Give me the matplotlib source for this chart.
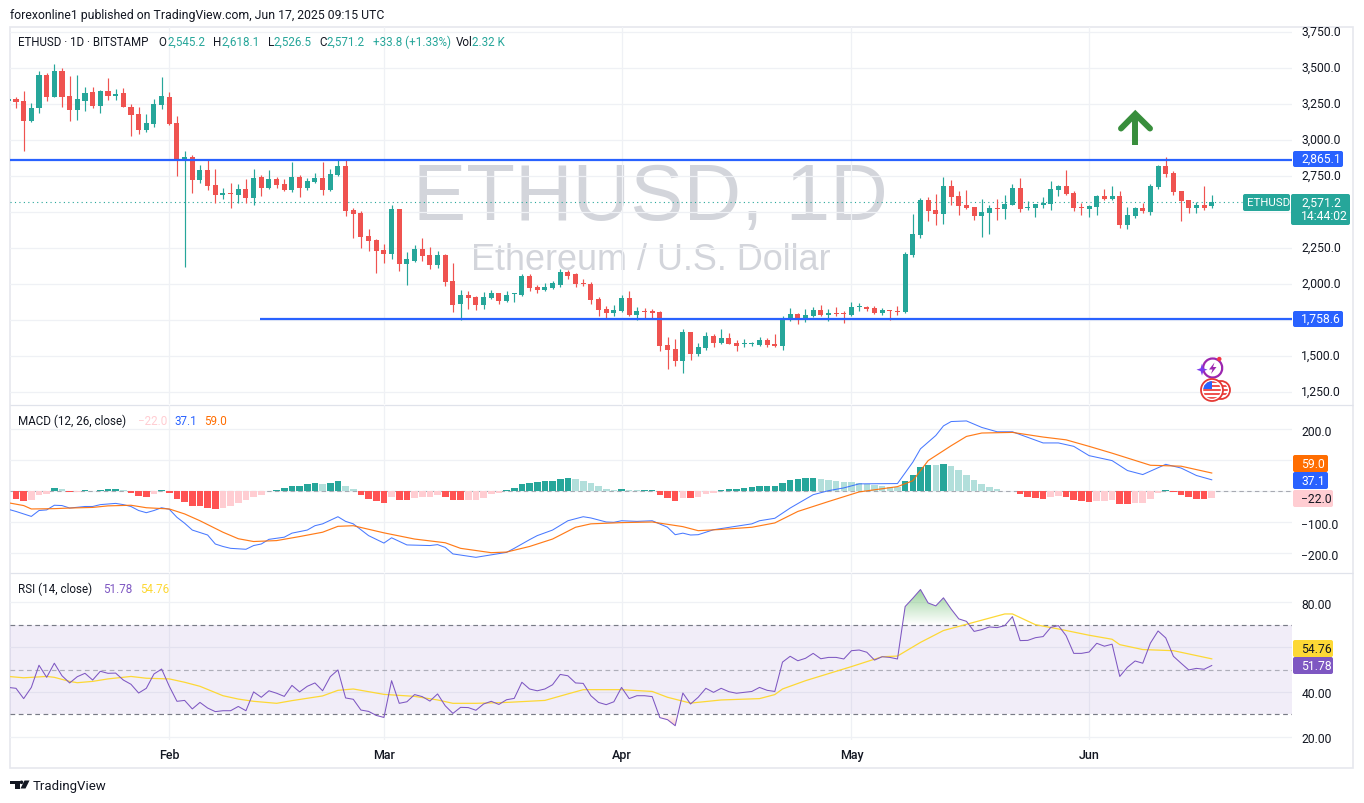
import numpy as np
import matplotlib
matplotlib.use("Agg")
import matplotlib.pyplot as plt
from matplotlib.patches import Rectangle, FancyBboxPatch, Circle, Polygon, Arc, PathPatch
from matplotlib.transforms import ScaledTranslation

plt.rcParams['font.family'] = ['Roboto', 'DejaVu Sans']

# ---------- data (days counted from 1 Feb 2025; first candle = 11 Jan) ----------
opens = [3270,3286,3272,3136,3224,3453,3303,3481,3307,3210,3272,3335,3238,3342,3307,3328,3231,3182,3071,3113,3245,
 3300,3120,2870,2884,2724,2793,2689,2620,2631,2620,2661,2599,2745,2668,2731,2696,2654,2745,2668,2710,2738,2654,2759,
 2821,2516,2495,2335,2307,2238,2210,2523,2141,2161,2245,2203,2134,2203,2023,1863,1925,1911,1856,1905,1939,1884,1930,1925,2057,1981,1960,1974,1995,2085,2071,2006,2002,1898,1828,1800,
 1814,1905,1786,1814,1814,1807,1578,1550,1467,1668,1516,1557,1641,1592,1627,1592,1582,1582,1578,1613,1585,1571,1752,1793,1766,1780,1821,1786,1798,1800,
 1786,1840,1842,1835,1800,1819,1814,1807,2203,2342,2585,2516,2488,2683,2613,2551,2537,2474,2495,2530,2523,2551,2669,2532,2530,2551,2558,2655,2683,2634,2537,
 2523,2537,2613,2592,2613,2412,2474,2530,2502,2676,2822,2773,2648,2586,2530,2551,2545.2]
closes = [3290,3268,3136,3224,3453,3303,3481,3303,3210,3286,3328,3238,3342,3307,3321,3231,3175,3071,3120,3252,3307,
 3110,2865,2884,2724,2793,2682,2620,2634,2627,2661,2599,2738,2668,2731,2689,2654,2745,2668,2717,2738,2654,2765,2821,
 2509,2488,2328,2300,2231,2210,2523,2141,2175,2245,2196,2134,2203,2016,1856,1925,1905,1856,1911,1939,1884,1925,1935,2057,1974,1960,1981,2009,2085,2057,2002,2002,1891,1821,1800,1821,
 1905,1786,1814,1810,1800,1571,1543,1467,1668,1516,1564,1641,1592,1627,1585,1571,1587,1587,1613,1578,1571,1759,1793,1766,1786,1821,1786,1800,1793,1796,
 1842,1844,1828,1800,1821,1814,1810,2210,2349,2585,2509,2488,2683,2606,2544,2530,2474,2502,2530,2525,2558,2669,2523,2537,2558,2565,2662,2683,2627,2530,2532,
 2544,2613,2592,2613,2412,2481,2530,2509,2683,2822,2766,2641,2579,2530,2551,2530,2571.2]
highs = [3296,3300,3342,3259,3481,3467,3529,3499,3446,3453,3367,3370,3349,3432,3356,3363,3252,3231,3182,3286,3439,
 3335,3168,2925,2897,2828,2863,2800,2668,2703,2696,2731,2800,2759,2793,2745,2731,2849,2759,2738,2772,2849,2800,2870,
 2863,2530,2509,2384,2314,2280,2550,2523,2224,2273,2321,2259,2231,2210,2148,1960,1953,1918,1946,1960,1939,1953,1939,2071,2071,1995,2009,2023,2106,2099,2078,2036,2016,1911,1849,1856,
 1925,1953,1842,1835,1828,1814,1634,1620,1689,1668,1592,1668,1655,1689,1661,1613,1620,1599,1634,1627,1655,1780,1835,1800,1828,1842,1856,1828,1842,1814,
 1877,1870,1849,1849,1835,1819,1849,2224,2488,2599,2606,2627,2745,2724,2648,2655,2537,2592,2551,2592,2620,2697,2738,2579,2558,2606,2717,2690,2794,2648,2565,
 2551,2620,2662,2683,2648,2537,2537,2565,2697,2829,2884,2787,2648,2586,2572,2683,2618.1]
lows = [3264,3224,2925,3130,3189,3275,3300,3231,3136,3141,3203,3224,3189,3279,3279,3228,3029,3043,3057,3092,3217,
 3106,2752,2120,2634,2703,2654,2564,2592,2529,2564,2564,2550,2613,2665,2668,2650,2640,2606,2654,2706,2620,2650,2752,
 2476,2321,2252,2231,2078,2148,2175,2092,1995,2155,2161,2106,2113,1988,1807,1752,1828,1821,1828,1900,1863,1880,1877,1920,1953,1939,1955,1970,1981,2036,1981,1988,1863,1780,1766,1780,
 1810,1780,1752,1759,1766,1536,1411,1432,1384,1474,1502,1543,1564,1588,1582,1536,1564,1571,1575,1564,1564,1543,1745,1724,1738,1775,1783,1745,1780,1731,
 1782,1814,1814,1793,1786,1752,1786,1803,2189,2321,2439,2411,2419,2551,2481,2525,2447,2329,2349,2447,2454,2548,2502,2516,2467,2530,2516,2613,2620,2509,2481,
 2467,2481,2585,2585,2391,2384,2461,2495,2481,2662,2745,2620,2440,2495,2495,2516,2526.5]

hist_values = [-25,-30,-28,-12,-8,11,8,-2,-1,4,1,4,8,8,3,-5,-15,-18,-9,4,-4,-25,-34,-47,-47,-54,-57,-54,-47,-38,-28,-18,-12,1,4,11,17,17,24,27,24,27,33,17,8,-12,-25,-31,-38,-18,-28,-28,-22,-18,-18,-12,-18,-28,-28,-28,-28,-22,-9,-5,4,11,24,27,30,33,33,40,43,40,33,27,17,8,4,8,4,4,4,4,-12,-22,-31,
 -22,-22,-18,-9,-5,4,8,8,11,14,17,17,17,27,37,40,43,43,40,37,33,30,30,27,24,20,17,14,14,33,53,78,85,85,88,82,69,53,37,24,14,8,1,1,-9,-18,-22,-25,-18,-15,-18,-28,-31,-34,-31,-31,-28,-41,-41,-38,-38,-25,-5,4,-2,-12,-18,-25,-25,-22]
hist_kind = "RRrrrTtRrTtTTTtRRRrTRRRRRRRrrrrrrTTTTTTTtTTttRRRRrRRrrrrRRRrrrrrTTTTTTTTTttttttTttTTRRR" \
            "rRrrrTTTTTTTTTTTTTtttttttttttTTTTtTttttttttTRRRRrrRRRRrrrRRrrrrTRRRRRr"

macd_days = [-21,-20,-18,-17,-16,-15,-14,-13,-11,-10,-9,-7,-6,-5,-4,-3,-2,-1,0,1,2,3,5,6,7,8,10,11,12,13,15,16,18,19,20,22,23,24,26,28,29,31,34,35,36,37,40,42,44,45,47,48,50,52,54,55,57,58,59,61,63,65,66,67,68,69,71,76,77,79,81,84,86,88,90,95,97,98,100,101,102,104,106,108,110,114,116,118,120,123,125,127,130,132,134,136]
macd_line = [-58,-65,-81,-62,-60,-45,-46,-54,-49,-49,-43,-39,-43,-49,-62,-69,-62,-53,-58,-84,-103,-125,-141,-170,-178,-184,-187,-175,-170,-155,-148,-135,-125,-111,-105,-82,-97,-105,-143,-167,-150,-173,-175,-172,-181,-202,-213,-205,-197,-184,-156,-143,-125,-95,-82,-86,-99,-100,-95,-97,-95,-116,-140,-135,-141,-140,-124,-105,-95,-87,-54,-11,2,11,24,25,94,137,180,211,225,227,206,192,192,156,156,145,115,99,67,54,87,75,51,37.1]
signal_days = [-21,-19,-18,-15,-13,-10,-8,-5,-3,0,2,4,7,9,11,14,17,20,22,24,28,32,36,38,42,44,47,50,53,55,59,63,67,69,72,76,79,82,86,90,95,97,99,102,104,106,110,114,117,120,123,128,132,136]
signal_line = [-37,-46,-57,-56,-54,-52,-47,-45,-53,-57,-73,-95,-132,-153,-162,-159,-146,-132,-113,-111,-134,-154,-166,-184,-198,-196,-178,-154,-116,-105,-101,-99,-114,-127,-123,-116,-102,-65,-33,-2,15,34,99,147,177,188,190,175,166,145,123,84,81,59.0]

rsi_values = [42.0,41.6,37.0,42.0,51.9,46.5,52.8,47.2,44.0,46.8,48.3,45.3,49.2,48.3,48.4,45.3,43.4,39.5,41.6,48.0,50.2,
 42.5,35.8,36.2,32.4,35.3,32.8,31.2,31.6,31.6,33.5,31.6,40.0,37.6,40.5,39.4,38.0,42.9,40.0,42.5,44.0,40.5,46.8,49.8,37.3,36.7,31.9,31.3,29.5,28.6,
 45.0,34.9,35.6,38.8,37.9,35.9,39.1,33.8,30.4,33.1,33.0,31.8,34.6,35.8,34.4,36.5,37.1,44.3,41.3,40.5,41.3,43.2,47.8,47.2,44.0,43.8,38.3,35.3,34.3,35.6,42.0,37.0,38.3,38.3,37.9,28.5,27.6,24.9,
 39.5,34.6,37.6,41.6,39.8,41.6,40.1,39.4,39.8,40.2,42.0,40.7,40.2,53.3,55.9,53.9,55.0,57.2,54.8,55.4,55.4,54.7,58.4,58.7,57.7,54.2,55.7,55.4,54.7,78.1,81.8,85.7,79.7,78.4,82.0,77.0,72.6,71.5,67.0,67.8,69.0,68.7,69.6,73.6,
 62.9,63.0,64.2,64.7,68.8,69.6,65.1,57.2,57.2,57.8,61.7,60.4,61.3,46.9,51.0,53.8,52.8,61.8,67.2,64.1,55.9,52.8,49.8,50.5,50.1,51.78]
rsi_ma_days = [-21,-19,-16,-15,-13,-12,-10,-8,-5,-3,0,2,4,7,9,11,14,16,20,22,24,28,32,35,37,40,44,49,52,54,59,63,65,68,72,77,79,80,83,89,93,95,98,101,105,109,110,113,116,120,123,124,127,131,136]
rsi_ma = [46.9,46.3,46.9,46.5,44.7,44.1,44.7,45.8,46.9,46.1,45.8,44.3,42.5,38.3,36.8,35.8,34.9,36.1,38.2,40.7,41.3,38.9,38.0,36.4,34.9,34.9,35.3,36.2,39.1,41.0,41.0,40.2,37.6,35.0,36.4,37.0,38.8,41.3,45.0,51.3,55.7,56.0,62.1,67.4,71.1,74.8,74.8,70.0,68.1,65.3,63.5,61.1,58.9,58.4,54.76]

month_days = [0, 28, 59, 89, 120]
month_labels = ["Feb", "Mar", "Apr", "May", "Jun"]
price_ticks = [3750, 3500, 3250, 3000, 2750, 2500, 2250, 2000, 1750, 1500, 1250]
price_labels = ["3,750.0", "3,500.0", "3,250.0", "3,000.0", "2,750.0", "", "2,250.0", "2,000.0", "", "1,500.0", "1,250.0"]
macd_ticks = [200, 100, 0, -100, -200]
macd_labels = ["200.0", "", "", "\u2212100.0", "\u2212200.0"]
rsi_ticks = [80, 60, 40, 20]
rsi_labels = ["80.00", "", "40.00", "20.00"]
resistance = 2865.1
support = 1758.6
last_price = 2571.2

# ---------- colours ----------
UP, DOWN = '#26a69a', '#ef5350'
HCOL = {'T': '#26a69a', 't': '#b2dfdb', 'R': '#ff5252', 'r': '#ffcdd2'}
BLUE, ORANGE, PURPLE, YELLOW = '#2962ff', '#ff6d00', '#7e57c2', '#fdd835'
GRID, TXT = '#eff1f5', '#131722'
W, H = 1364, 804
X0, X1 = 10, 1291.5

fig = plt.figure(figsize=(W/100, H/100), dpi=100, facecolor='white')

def rect(x0, y0, x1, y1):
    return [x0/W, 1-y1/H, (x1-x0)/W, (y1-y0)/H]

def px_axes(z):
    a = fig.add_axes([0, 0, 1, 1], zorder=z)
    a.set_xlim(0, W); a.set_ylim(H, 0); a.axis('off'); a.patch.set_alpha(0)
    return a

bg = px_axes(0)
top = px_axes(10)

xlim = ((X0-169.3)/7.665, (X1-169.3)/7.665)
def pane(y0, y1, ylim):
    a = fig.add_axes(rect(X0, y0, X1, y1), zorder=2)
    a.set_facecolor('none')
    a.set_xlim(*xlim); a.set_ylim(*ylim)
    for s in a.spines.values(): s.set_visible(False)
    a.yaxis.tick_right()
    a.tick_params(axis='both', length=0, labelsize=8.7, labelcolor=TXT)
    a.tick_params(axis='y', pad=7)
    a.set_xticks(month_days)
    a.grid(True, color=GRID, lw=0.9, zorder=0)
    a.set_axisbelow(True)
    return a

p_of = lambda y: 3000+(141.3-y)/0.144
ax = pane(28, 405, (p_of(405), p_of(28)))
m_of = lambda y: (492.3-y)/0.31
ax2 = pane(406, 573, (m_of(573), m_of(406)))
r_of = lambda y: 80-(y-603.3)/2.24
ax3 = pane(574, 741, (r_of(741), r_of(574)))

def set_labels(a, ticks, labels, up_px):
    a.set_yticks(ticks)
    a.set_yticklabels(labels)
    off = ScaledTranslation(0, up_px/100, fig.dpi_scale_trans)
    for l in a.get_yticklabels():
        l.set_transform(l.get_transform()+off)

set_labels(ax, price_ticks, price_labels, 2.4)
set_labels(ax2, macd_ticks, macd_labels, -0.4)
set_labels(ax3, rsi_ticks, rsi_labels, -0.4)
ax.set_xticklabels([]); ax2.set_xticklabels([])
ax3.set_xticklabels(month_labels, fontsize=9, fontweight='medium', color=TXT)
ax3.tick_params(axis='x', pad=5.5)

# ---------- candles ----------
o, c, hi, lo = map(np.array, (opens, closes, highs, lows))
days = np.arange(-21, -21+len(o))
cols = np.where(c >= o, UP, DOWN)
ax.vlines(days, lo, hi, colors=cols, lw=0.85, zorder=4)
ax.bar(days, np.maximum(np.abs(c-o), 7), bottom=np.minimum(o, c), width=0.66, color=cols, lw=0, zorder=5)
ax.hlines(resistance, xlim[0], xlim[1], color=BLUE, lw=1.6, zorder=6)
ax.hlines(support, (260-169.3)/7.665, xlim[1], color=BLUE, lw=1.6, zorder=6)
ax.hlines(last_price, xlim[0], (1242-169.3)/7.665, color=UP, lw=0.8, linestyles=(0, (1, 3)), zorder=3)

# ---------- MACD ----------
hd = np.arange(-20, -20+len(hist_values))
ax2.bar(hd, hist_values, width=0.86, color=[HCOL[k] for k in hist_kind], lw=0, zorder=3)
ax2.hlines(0, xlim[0], xlim[1], color='#787b86', lw=0.8, alpha=0.6, linestyles=(0, (4, 3)), zorder=2)
ax2.plot(macd_days, macd_line, color=BLUE, lw=0.75, alpha=0.85, zorder=4)
ax2.plot(signal_days, signal_line, color=ORANGE, lw=0.85, alpha=0.9, zorder=5)

# ---------- RSI ----------
rd = np.arange(-21, -21+len(rsi_values))
rv = np.array(rsi_values)
ax3.axhspan(30, 70, color=PURPLE, alpha=0.1, lw=0, zorder=1)
for lvl, al in ((70, 1), (50, 0.55), (30, 1)):
    ax3.hlines(lvl, xlim[0], xlim[1], color='#787b86', lw=0.85, alpha=al, linestyles=(0, (4, 3)), zorder=2)

def grad(where, col, v0, v1, a_far):
    poly = ax3.fill_between(rd, 70 if v0 == 70 else 30, rv, where=where, interpolate=True, color='none')
    rgba = np.zeros((64, 2, 4)); rgba[..., :3] = matplotlib.colors.to_rgb(col)
    rgba[..., 3] = np.linspace(a_far, 0, 64)[:, None] if v1 > v0 else np.linspace(0, a_far, 64)[:, None]
    lo_v, hi_v = min(v0, v1), max(v0, v1)
    for path in poly.get_paths():
        im = ax3.imshow(rgba, extent=(rd[0], rd[-1], lo_v, hi_v), aspect='auto', origin='upper', zorder=3)
        im.set_clip_path(PathPatch(path, transform=ax3.transData))
    ax3.set_xlim(*xlim); ax3.set_ylim(r_of(741), r_of(574))

grad(rv > 70, '#4caf50', 70, 86, 0.55)
grad(rv < 30, '#ef5350', 30, 24, 0.35)
ax3.plot(rd, rv, color=PURPLE, lw=0.75, zorder=5)
ax3.plot(rsi_ma_days, rsi_ma, color=YELLOW, lw=0.9, zorder=4)

# ---------- outer frame + watermark ----------
bg.add_patch(Rectangle((10, 27.5), 1343, 741, fc='white', ec='#e6e8ee', lw=1.2))
bg.hlines([405.5, 573.5], 10, 1353, color='#e0e3eb', lw=0.9)
wm = dict(family=['Liberation Sans', 'DejaVu Sans'], color='#d3d5db', ha='center', va='center')
bg.text(650, 199, "ETHUSD, 1D", fontsize=57.5, **wm)
bg.text(651, 261, "Ethereum / U.S. Dollar", fontsize=25.9, **wm)

# ---------- text helpers ----------
def t(x, y, s, color=TXT, size=8.7, **k):
    k.setdefault('va', 'center'); k.setdefault('ha', 'left')
    top.text(x, y, s, color=color, fontsize=size, **k)

t(10, 15.3, "forexonline1 published on TradingView.com, Jun 17, 2025 09:15 UTC", size=8.8)
LY = 42.5
t(18, LY, "ETHUSD \u00b7 1D \u00b7 BITSTAMP", size=8.3)
for x, s, col in [(158, "O", TXT), (167.7, "2,545.2", UP), (213, "H", TXT), (221.7, "2,618.1", UP),
                  (267.7, "L", TXT), (273.3, "2,526.5", UP), (319.3, "C", TXT), (326.7, "2,571.2", UP),
                  (372.7, "+33.8 (+1.33%)", UP), (455.7, "Vol", TXT), (471.7, "2.32 K", UP)]:
    t(x, LY, s, col, size=8.4)
t(18, 421.5, "MACD (12, 26, close)", size=8.4)
t(138, 421.5, "\u221222.0", '#ffcdd2', size=8.4); t(174, 421.5, "37.1", BLUE, size=8.4); t(204, 421.5, "59.0", ORANGE, size=8.4)
t(18, 589.5, "RSI (14, close)", size=8.4)
t(103, 589.5, "51.78", PURPLE, size=8.4); t(140, 589.5, "54.76", YELLOW, size=8.4)

# ---------- right-hand price boxes ----------
def box(x0, y0, x1, y1, fc):
    top.add_patch(FancyBboxPatch((x0+1.5, y0+1.5), x1-x0-3, y1-y0-3, boxstyle="round,pad=1.5,rounding_size=2", fc=fc, ec='none'))

box(1293, 152, 1343, 168, BLUE); t(1301, 159.6, "2,865.1", 'white')
box(1293, 312, 1343, 328, BLUE); t(1301, 319.6, "1,758.6", 'white')
box(1243, 195, 1290, 212, UP); t(1247, 203.5, "ETHUSD", 'white', size=8.2)
box(1291, 195, 1350, 226, UP); t(1301, 203, "2,571.2", 'white'); t(1301, 217, "14:44:02", 'white')
box(1293, 456, 1328, 473, ORANGE); t(1301, 464.5, "59.0", 'white')
box(1293, 473, 1328, 490, BLUE); t(1301, 481.5, "37.1", 'white')
box(1293, 491, 1333, 508, '#ffcdd2'); t(1301, 499.5, "\u221222.0", TXT)
box(1293, 641, 1333, 658, YELLOW); t(1301, 649.5, "54.76", TXT)
box(1293, 658, 1333, 675, PURPLE); t(1301, 666.5, "51.78", 'white')

# ---------- arrow ----------
ARW = '#388e3c'
top.plot([1135.3, 1135.3], [146, 115], color=ARW, lw=4.3, solid_capstyle='butt')
top.plot([1121, 1135.3, 1150], [129.5, 115, 129.5], color=ARW, lw=4.3, solid_capstyle='round', solid_joinstyle='miter')

# ---------- icons ----------
top.add_patch(Arc((1212.7, 369), 19, 19, theta1=0, theta2=360, color='#9c27b0', lw=1.6))
top.add_patch(Polygon([(1202, 364.5), (1203.4, 369.3), (1207.5, 370.7), (1203.4, 372.1), (1202, 376.5), (1200.6, 372.1), (1196.5, 370.7), (1200.6, 369.3)], fc='#7c3aed', ec='none'))
top.add_patch(Polygon([(1214.5, 363.5), (1209, 370.5), (1212.5, 370.5), (1211, 375), (1216.5, 368), (1213, 368)], fc='#9c27b0', ec='none'))
top.add_patch(Circle((1219.3, 360), 2.2, fc='#f23645', ec='none'))
for cx, r in ((1221, 9), (1212, 11)):
    top.add_patch(Circle((cx, 391), r, fc='white', ec='#e53935', lw=1.3))
    clip = Circle((cx, 391), r-2.2, transform=top.transData)
    for k, yy in enumerate(np.arange(382, 401, 4)):
        rr = top.add_patch(Rectangle((cx-r, yy), 2*r, 2, fc='#ef5350', ec='none')); rr.set_clip_path(clip)
    rr = top.add_patch(Rectangle((cx-r, 380), r, 10, fc='#2962ff', ec='none')); rr.set_clip_path(clip)

# ---------- TradingView logo ----------
LOGO = '#131722'
top.add_patch(Polygon([(10, 781.5), (19.5, 781.5), (19.5, 789.5), (14.5, 789.5), (14.5, 785.2), (10, 785.2)], fc=LOGO, ec='none'))
top.add_patch(Circle((21.5, 783.3), 1.8, fc=LOGO, ec='none'))
top.add_patch(Polygon([(24.5, 781.5), (29.5, 781.5), (25.5, 789.5), (20.5, 789.5)], fc=LOGO, ec='none'))
t(33, 786.5, "TradingView", size=9.5)

fig.savefig('out.png', dpi=100)
